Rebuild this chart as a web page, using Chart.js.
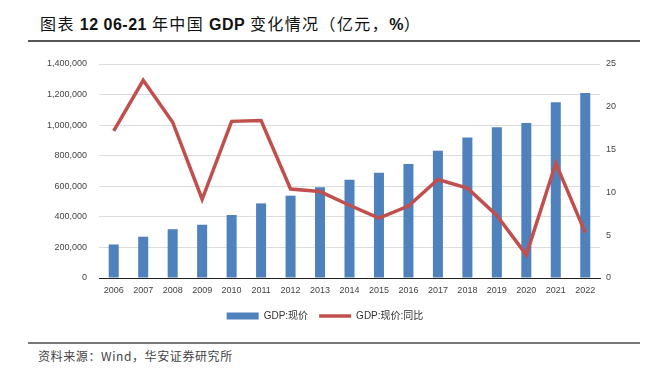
<!DOCTYPE html>
<html>
<head>
<meta charset="utf-8">
<script src="https://cdn.jsdelivr.net/npm/chart.js@4.4.0/dist/chart.umd.min.js"></script>
<style>
  html, body { margin: 0; padding: 0; background: #fff; }
  #wrap { position: relative; width: 650px; height: 374px; overflow: hidden; }
  #title {
    position: absolute; left: 40px; top: 11px; font-size: 16px; color: #111; letter-spacing: 1.4px;
    font-family: "Liberation Sans", "Noto Sans CJK SC", sans-serif; white-space: nowrap;
  }
  #title b { font-weight: bold; letter-spacing: 0.5px; }
  #title span { font-family: "Noto Sans CJK SC", sans-serif; }
  #rule1 { position: absolute; left: 28px; top: 40px; width: 612px; height: 2px; background: #555; }
  #rule2 { position: absolute; left: 28px; top: 342px; width: 612px; height: 1.5px; background: #777; }
  #source {
    position: absolute; left: 38px; top: 347px; font-size: 12px; color: #444; letter-spacing: 0.6px;
    font-family: "Noto Sans CJK SC", "Liberation Sans", sans-serif; white-space: nowrap;
  }
  #box { position: absolute; left: 0; top: 0; width: 650px; height: 331px; }
</style>
</head>
<body>
<div id="wrap">
  <div id="title"><span>图表 </span><b>12 06-21 </b><span>年中国 </span><b>GDP </b><span>变化情况（亿元，</span><b>%</b><span>）</span></div>
  <div id="rule1"></div>
  <div id="box"><canvas id="chart"></canvas></div>
  <div id="rule2"></div>
  <div id="source">资料来源：Wind，华安证券研究所</div>
</div>
<script>
const years = ["2006", "2007", "2008", "2009", "2010", "2011", "2012", "2013", "2014",
  "2015", "2016", "2017", "2018", "2019", "2020", "2021", "2022"];
const gdpNominal = [219439, 270092, 319245, 348518, 412119, 487940, 538580, 592963, 643563,
  688858, 746395, 832036, 919281, 986515, 1013567, 1149237, 1210207];
const gdpYoY = [17.2, 23.1, 18.2, 9.2, 18.3, 18.4, 10.4, 10.1, 8.5,
  7.0, 8.4, 11.5, 10.5, 7.3, 2.7, 13.4, 5.3];

const tickFont = { family: "Liberation Sans", size: 9 };
const tickColor = "#444";

new Chart(document.getElementById("chart"), {
  data: {
    labels: years,
    datasets: [
      {
        type: "bar",
        label: "GDP:现价",
        data: gdpNominal,
        yAxisID: "y",
        backgroundColor: "#4f81bd",
        borderWidth: 0,
        barPercentage: 0.34,
        categoryPercentage: 1,
        pointStyle: "rect",
        order: 2,
      },
      {
        type: "line",
        label: "GDP:现价:同比",
        data: gdpYoY,
        yAxisID: "y1",
        borderColor: "#c0504d",
        backgroundColor: "#c0504d",
        borderWidth: 3.5,
        pointRadius: 0,
        pointStyle: "line",
        tension: 0,
        order: 1,
      },
    ],
  },
  options: {
    responsive: true,
    maintainAspectRatio: false,
    animation: false,
    layout: { padding: { top: 64, left: 0, right: 0, bottom: 0 } },
    plugins: {
      tooltip: { enabled: false },
      legend: {
        position: "bottom",
        labels: {
          usePointStyle: true,
          pointStyleWidth: 32,
          boxHeight: 7,
          padding: 11,
          color: "#333",
          font: { family: "Liberation Sans, Noto Sans CJK SC", size: 10 },
          sort: (a, b) => a.datasetIndex - b.datasetIndex,
        },
      },
    },
    scales: {
      x: {
        grid: { display: false, drawTicks: false },
        border: { color: "#222", width: 1 },
        ticks: { color: tickColor, font: tickFont, maxRotation: 0, padding: 7 },
        afterFit: (s) => { s.height = 22; },
      },
      y: {
        position: "left",
        min: 0,
        max: 1400000,
        grid: { color: "#dcdcdc", lineWidth: 1, drawTicks: false },
        border: { display: false },
        ticks: {
          stepSize: 200000,
          color: tickColor,
          font: tickFont,
          padding: 12,
          callback: (v) => v.toLocaleString("en-US"),
        },
        afterFit: (s) => { s.width = 99; },
      },
      y1: {
        position: "right",
        min: 0,
        max: 25,
        grid: { display: false, drawTicks: false },
        border: { display: false },
        ticks: { stepSize: 5, color: tickColor, font: tickFont, padding: 6 },
        afterFit: (s) => { s.width = 50; },
      },
    },
  },
});
</script>
</body>
</html>
